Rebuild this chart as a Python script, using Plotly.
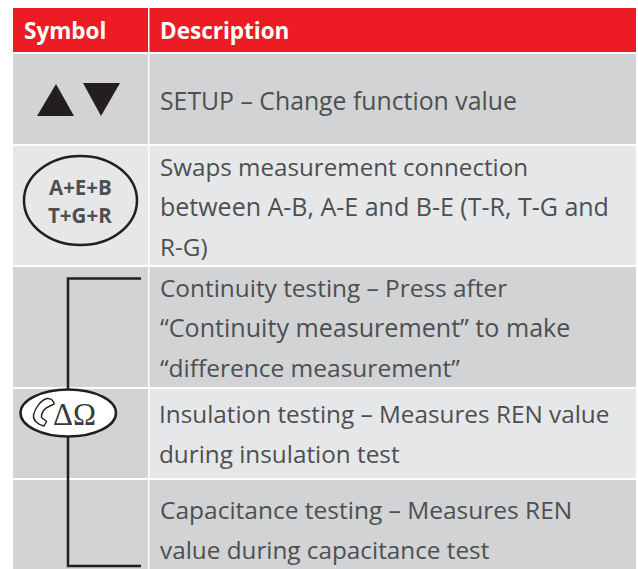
import plotly.graph_objects as go

W, H = 638, 569
FONT = "Open Sans"
RED, DARK, LIGHT, TXT, INK = "#ED1C24", "#D1D3D4", "#E6E7E8", "#4D4F51", "#231F20"

headers = ["Symbol", "Description"]
descriptions = [
    "SETUP – Change function value",
    "Swaps measurement connection",
    "between A-B, A-E and B-E (T-R, T-G and",
    "R-G)",
    "Continuity testing – Press after",
    "“Continuity measurement” to make",
    "“difference measurement”",
    "Insulation testing – Measures REN value",
    "during insulation test",
    "Capacitance testing – Measures REN",
    "value during capacitance test",
]
key_labels = ["A+E+B", "T+G+R"]
function_label = "ΔΩ"

# layout only
header_x = [24, 160]
desc_x = [160, 160, 160, 160, 160, 160, 160, 159, 159, 160, 160]
desc_y = [100, 166, 206, 246, 287, 327, 367, 413, 453, 509, 549]
desc_size = [24.8, 24.2, 25.0, 24.3, 24.4, 25.1, 24.5, 24.3, 24.3, 24.5, 24.3]
key_y = [187, 215]
row_edges = [(54, 144), (146, 265), (267, 387), (389, 478), (480, 569)]
row_colors = [DARK, LIGHT, DARK, LIGHT, DARK]
symbol_colors = [DARK, LIGHT, DARK, DARK, DARK]

shapes = []
def rect(x0, y0, x1, y1, color):
    shapes.append(dict(type="rect", x0=x0, x1=x1, y0=y0, y1=y1, fillcolor=color, line_width=0, layer="below"))

rect(13, 8, 148, 52, RED)
rect(149.5, 8, 636, 52, RED)
for (y0, y1), c, s in zip(row_edges, row_colors, symbol_colors):
    rect(13, y0, 148, y1, s)
    rect(149.5, y0, 636, y1, c)

# arrow keys
shapes.append(dict(type="path", path="M37,116 L74,116 L56,84 Z", fillcolor=INK, line_width=0))
shapes.append(dict(type="path", path="M83,83 L120,83 L101,116 Z", fillcolor=INK, line_width=0))
# A+E+B key
shapes.append(dict(type="circle", x0=24, x1=137, y0=156, y1=245, line=dict(color=INK, width=2.5)))
# bracket
shapes.append(dict(type="path", path="M141,278.5 L68,278.5 L68,566 L141,566", line=dict(color=INK, width=2.5)))
# function key
shapes.append(dict(type="circle", x0=20.5, x1=116, y0=389.5, y1=436.5, fillcolor="white", line=dict(color=INK, width=2.5)))
# handset outline
phone = ("M47,398.5 C41,400 35,408 33.5,415 C33,420 37,424.5 44,426 L46.5,421.5 L41.5,417.5 "
         "C41,412 45,408 49,406.5 L54,404 C54,401 51,398 47,398.5 Z")
shapes.append(dict(type="path", path=phone, fillcolor="white", line=dict(color=INK, width=1.4)))

ann = []
def text(x, y, s, size, color, bold=False, family=FONT, anchor="left"):
    ann.append(dict(x=x, y=y, text=f"<b>{s}</b>" if bold else s, showarrow=False, xanchor=anchor, yanchor="middle",
                    xref="x", yref="y", font=dict(family=family, size=size, color=color), borderpad=0, borderwidth=0))

for x, s in zip(header_x, headers):
    text(x, 30.5, s, 22.5, "white", bold=True)
for x, y, size, s in zip(desc_x, desc_y, desc_size, descriptions):
    text(x, y, s, size, TXT)
for y, s in zip(key_y, key_labels):
    text(80, y, s, 20.5, TXT, bold=True, anchor="center")
text(74, 414, function_label, 31, "#3A3A3C", family="Liberation Serif", anchor="center")

fig = go.Figure()
fig.update_layout(
    width=W, height=H, margin=dict(l=0, r=0, t=0, b=0), paper_bgcolor="white", plot_bgcolor="white",
    xaxis=dict(range=[0, W], visible=False, fixedrange=True),
    yaxis=dict(range=[H, 0], visible=False, fixedrange=True),
    shapes=shapes, annotations=ann, showlegend=False,
)
fig.write_html("out.html", config=dict(displayModeBar=False),
               post_script="document.body.style.margin='0';document.body.style.overflow='hidden';")
